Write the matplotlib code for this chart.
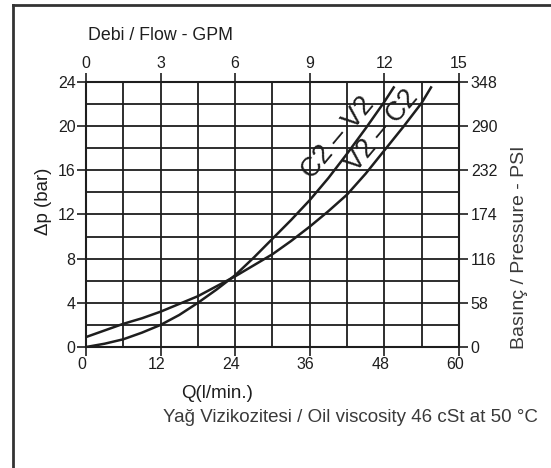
import matplotlib.pyplot as plt
from matplotlib.ticker import MultipleLocator
from matplotlib.lines import Line2D
import matplotlib.transforms as mtransforms

plt.rcParams['font.family'] = ['Liberation Sans', 'DejaVu Sans']

# flow in l/min and pressure drop in bar
q_c2v2 = [0, 3, 6, 9, 12, 15, 18, 21, 24, 27, 30, 33, 36, 39, 42, 45, 48, 49.5]
dp_c2v2 = [0, 0.3, 0.7, 1.3, 2.0, 2.9, 4.0, 5.2, 6.5, 8.1, 9.8, 11.5, 13.3, 15.3, 17.5, 19.8, 22.2, 23.5]

q_v2c2 = [0, 3, 6, 9, 12, 15, 18, 21, 24, 27, 30, 33, 36, 39, 42, 45, 48, 51, 54, 55.5]
dp_v2c2 = [0.9, 1.5, 2.1, 2.6, 3.2, 3.9, 4.6, 5.5, 6.4, 7.4, 8.4, 9.6, 10.9, 12.3, 13.8, 15.7, 17.8, 19.9, 22.1, 23.5]

bar_ticks = [0, 4, 8, 12, 16, 20, 24]
lpm_ticks = [0, 12, 24, 36, 48, 60]
gpm_ticks = [0, 3, 6, 9, 12, 15]
psi_ticks = [0, 58, 116, 174, 232, 290, 348]

ink = '#1e1e1e'
grey = '#3a3a3a'
tick_fs = 11.5

fig = plt.figure(figsize=(5.51, 4.68), dpi=100)
ax = fig.add_axes([0.156, 0.2585, 0.677, 0.5665])

ax.plot(q_c2v2, dp_c2v2, color=ink, lw=1.8, zorder=3)
ax.plot(q_v2c2, dp_v2c2, color=ink, lw=1.8, zorder=3)

ax.set_xlim(0, 60)
ax.set_ylim(0, 24)
ax.set_xticks(lpm_ticks)
ax.set_yticks(bar_ticks)
ax.xaxis.set_minor_locator(MultipleLocator(6))
ax.yaxis.set_minor_locator(MultipleLocator(2))
ax.grid(True, which='both', color=ink, lw=1.3)
ax.set_axisbelow(True)
ax.tick_params(which='major', direction='out', length=6.5, width=1.2, color=ink,
               labelsize=tick_fs, labelcolor=ink, pad=1)
ax.tick_params(which='minor', length=0)
for s in ax.spines.values():
    s.set_color(ink)
    s.set_linewidth(1.5)

# shift bottom labels a little to the left, as in the original
offset = mtransforms.ScaledTranslation(-4 / 100, 0, fig.dpi_scale_trans)
for lab in ax.get_xticklabels():
    lab.set_transform(lab.get_transform() + offset)

# right axis in PSI
axr = ax.twinx()
axr.set_ylim(0, 348)
axr.set_yticks(psi_ticks)
axr.tick_params(direction='out', length=6.5, width=1.2, color=ink,
                labelsize=tick_fs, labelcolor=ink, pad=2)

# top axis in GPM
axt = ax.twiny()
axt.set_xlim(0, 15)
axt.set_xticks(gpm_ticks)
axt.tick_params(direction='out', length=6.5, width=1.2, color=ink,
                labelsize=tick_fs, labelcolor=ink, pad=1)
for a in (axr, axt):
    for s in a.spines.values():
        s.set_visible(False)

# curve labels
ax.text(40.6, 18.9, 'C2 – V2', rotation=50, ha='center', va='center',
        fontsize=19.5, color=ink, rotation_mode='anchor', zorder=4)
ax.text(47.6, 19.6, 'V2 – C2', rotation=50, ha='center', va='center',
        fontsize=19.5, color=ink, rotation_mode='anchor', zorder=4)

# axis titles
fig.text(160 / 551, 1 - 35 / 468, 'Debi / Flow - GPM', ha='center', va='center',
         fontsize=12.8, color=ink)
fig.text(43 / 551, 1 - 201 / 468, 'Δp (bar)', rotation=90, ha='center', va='center',
         fontsize=13.4, color=ink)
fig.text(520 / 551, 1 - 247 / 468, 'Basınç / Pressure - PSI', rotation=90, ha='center',
         va='center', fontsize=14, color=grey)
fig.text(217 / 551, 1 - 393 / 468, 'Q(l/min.)', ha='center', va='center', fontsize=13.5, color=ink)
fig.text(538 / 551, 1 - 418 / 468, 'Yağ Vizikozitesi / Oil viscosity 46 cSt at 50 °C',
         ha='right', va='center', fontsize=13.5, color=grey)

# frame around the figure (only top and left edges show)
fig.add_artist(Line2D([13 / 551, 13 / 551], [0, 1 - 5 / 468], color='#333333', lw=2))
fig.add_artist(Line2D([13 / 551, 1], [1 - 5 / 468, 1 - 5 / 468], color='#333333', lw=2))

fig.savefig('out.png', dpi=100)
